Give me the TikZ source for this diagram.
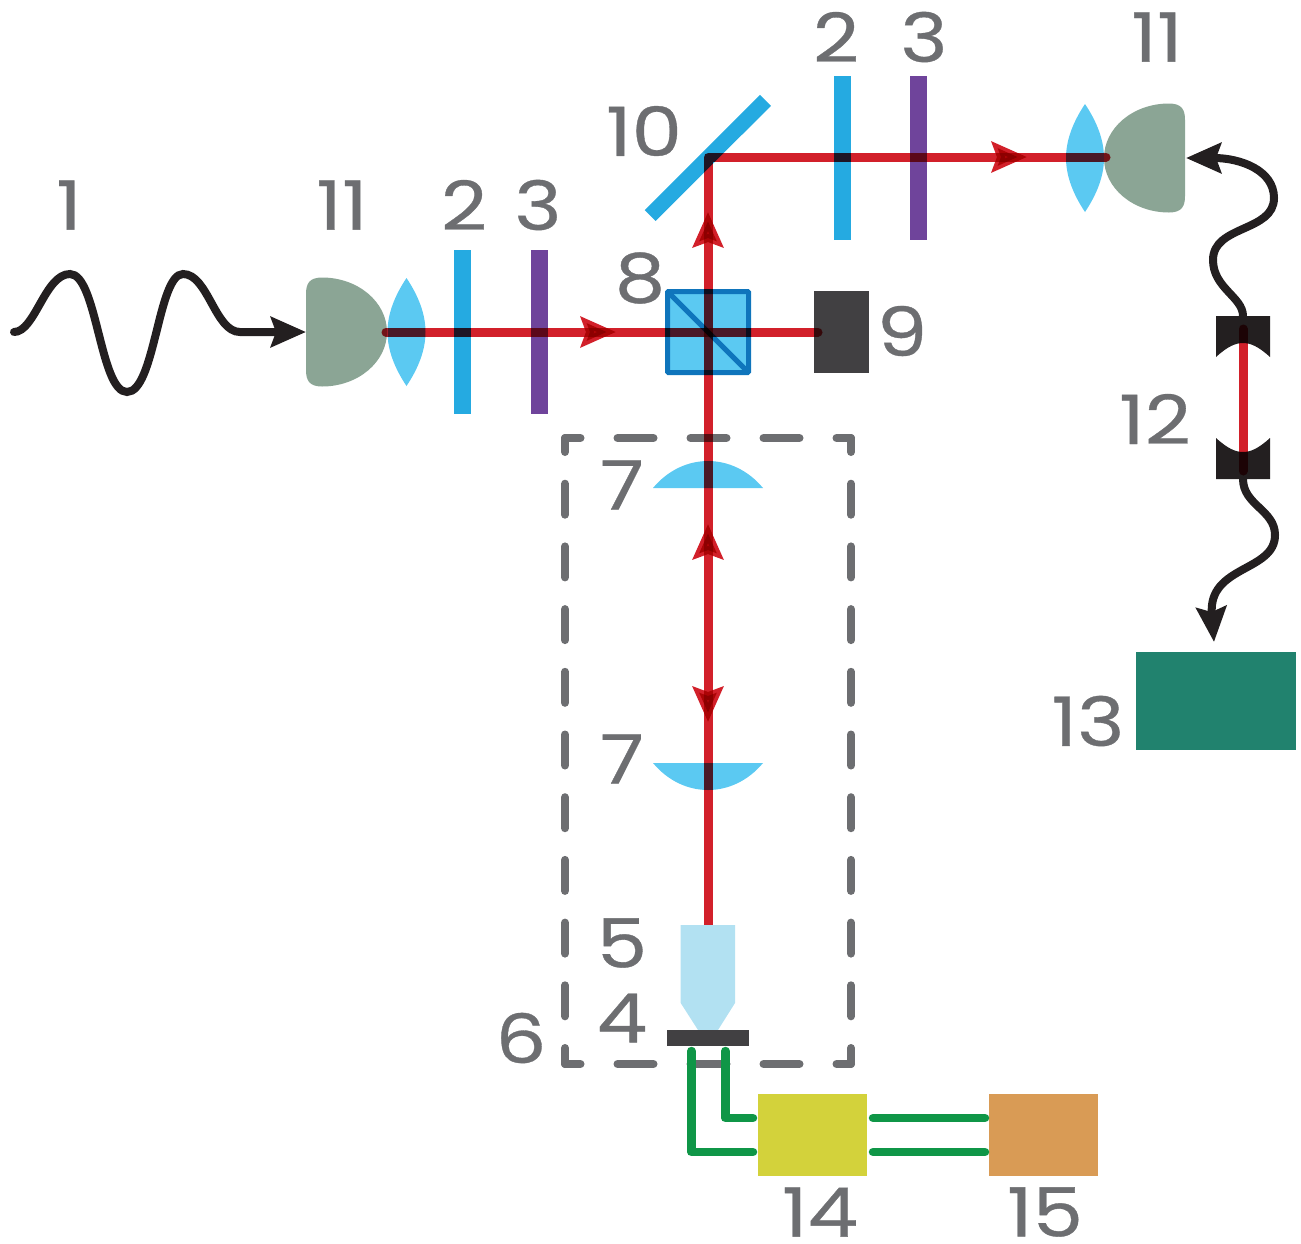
\documentclass[tikz,border=0pt]{standalone}
\usepackage{fontspec}
\setmainfont{Poppins}[FakeStretch=1.18, FakeBold=0.5]
\usetikzlibrary{arrows.meta, decorations.markings}
\definecolor{inkblack}{HTML}{231F20}
\definecolor{numgrey}{HTML}{6D6E71}
\definecolor{beamred}{HTML}{D2202A}
\definecolor{plateblue}{HTML}{25AAE1}
\definecolor{platepurple}{HTML}{6F449B}
\definecolor{lensblue}{HTML}{5BC9F2}
\definecolor{cubeblue}{HTML}{0F75BC}
\definecolor{couplergreen}{HTML}{8BA595}
\definecolor{darkgrey}{HTML}{414042}
\definecolor{objblue}{HTML}{B2E1F2}
\definecolor{wiregreen}{HTML}{0F9647}
\definecolor{boxyellow}{HTML}{D3D23B}
\definecolor{boxorange}{HTML}{D99B55}
\definecolor{boxteal}{HTML}{21826E}

\begin{document}
\begin{tikzpicture}[x=1pt, y=-1pt,
    num/.style={font=\fontsize{68}{68}\selectfont, text=numgrey, inner sep=0pt, yshift=2pt},
    plate/.style={rectangle, minimum width=17pt, minimum height=164pt, inner sep=0pt},
    solidbox/.style={rectangle, inner sep=0pt, outer sep=0pt},
    beam/.style={draw=beamred, line width=9pt, line cap=round, line join=round, blend mode=multiply},
    fibre/.style={draw=inkblack, line width=8pt, line cap=round},
    wire/.style={draw=wiregreen, line width=8.5pt, line cap=round, line join=round},
    hdash/.style={draw=numgrey, line width=8pt, line cap=round, dash pattern=on 36pt off 37pt, dash phase=20.5pt},
    vdash/.style={draw=numgrey, line width=8pt, line cap=round, dash pattern=on 31pt off 31.7pt, dash phase=15pt},
    redtip/.tip={Stealth[length=35pt, width=30pt, inset=5pt, color=beamred]},
    blacktip/.tip={Stealth[length=35pt, width=30pt, inset=5pt]},
    coupler/.pic={\fill[couplergreen] (0,-38) .. controls (0,-48) and (3,-54.5) .. (16,-54.5) .. controls (52,-54.5) and (81,-30) .. (81,0) .. controls (81,30) and (52,54.5) .. (16,54.5) .. controls (3,54.5) and (0,48) .. (0,38) -- cycle;},
    biconvex/.pic={\fill[lensblue] (0,-54) .. controls (12,-36) and (19,-18) .. (19,0) .. controls (19,18) and (12,36) .. (0,54) .. controls (-12,36) and (-19,18) .. (-19,0) .. controls (-19,-18) and (-12,-36) .. (0,-54) -- cycle;},
    planoconvex/.pic={\fill[lensblue] (-55,0) .. controls (-40,-18) and (-20,-27) .. (0,-27) .. controls (20,-27) and (40,-18) .. (55,0) -- cycle;},
    cavmirror/.pic={\fill[inkblack] (-27,0) -- (27,0) -- (27,41) .. controls (15,30) and (7,27) .. (0,27) .. controls (-7,27) and (-15,30) .. (-27,41) -- cycle;}]
    \useasboundingbox (0,0) rectangle (1301,1243);

    \pic (couplerA) at (306,332) {coupler};
    \pic (lensA) at (406.5,332) {biconvex};
    \node[plate, fill=plateblue] (hwpA) at (462.5,332) {};
    \node[plate, fill=platepurple] (qwpA) at (539.5,332) {};
    \pic[xscale=-1] (couplerB) at (1185,158) {coupler};
    \pic (lensB) at (1085,158) {biconvex};
    \node[plate, fill=plateblue] (hwpB) at (842.5,158) {};
    \node[plate, fill=platepurple] (qwpB) at (918.5,158) {};

    \node[solidbox, fill=lensblue, draw=cubeblue, line width=5pt, rounded corners=1pt, minimum width=81pt, minimum height=81pt] (cube) at (708,332) {};
    \draw[cubeblue, line width=5pt, shorten >=1.5pt, shorten <=1.5pt] (cube.north west) -- (cube.south east);
    \node[solidbox, fill=darkgrey, minimum width=55pt, minimum height=82pt] (dump) at (841.5,332) {};
    \coordinate (mirrorA) at (650.2,215.5);
    \coordinate (mirrorB) at (765.5,100.3);
    \draw[plateblue, line width=15.5pt] (mirrorA) -- (mirrorB);

    \pic (lensC) at (708,488) {planoconvex};
    \pic[yscale=-1] (lensD) at (708,763) {planoconvex};

    \coordinate (sw) at (565,1064);
    \coordinate (se) at (851,1064);
    \coordinate (nw) at (565,438);
    \coordinate (ne) at (851,438);
    \draw[hdash] (sw) -- (se);
    \draw[hdash] (nw) -- (ne);
    \draw[vdash] (sw) -- (nw);
    \draw[vdash] (se) -- (ne);

    \node[solidbox, fill=boxyellow, minimum width=109pt, minimum height=82pt] (amp) at (812.5,1135) {};
    \node[solidbox, fill=boxorange, minimum width=109pt, minimum height=82pt] (recorder) at (1043.5,1135) {};
    \node[solidbox, fill=boxteal, minimum width=160pt, minimum height=98pt] (detector) at (1216,701) {};

    \coordinate (pinA) at (691.3,1051);
    \coordinate (pinB) at (725.3,1051);
    \coordinate (ampA) at (753,1152);
    \coordinate (ampB) at (753,1118);
    \coordinate (outA) at (873,1118);
    \coordinate (outB) at (873,1152);
    \coordinate (recA) at (985,1118);
    \coordinate (recB) at (985,1152);
    \draw[wire] (pinA) |- (ampA);
    \draw[wire] (pinB) |- (ampB);
    \draw[wire] (outA) -- (recA);
    \draw[wire] (outB) -- (recB);

    \coordinate (waveS) at (14,332);
    \coordinate (waveE) at (306,332);
    \draw[fibre, -{blacktip}] (waveS) .. controls (35,332) and (45,274) .. (70,274) .. controls (97,274) and (100,392) .. (127,392) .. controls (155,392) and (158,274) .. (183,274) .. controls (208,274) and (215,332) .. (240,332) -- (waveE);

    \pic (cavA) at (1243,316) {cavmirror};
    \pic[yscale=-1] (cavB) at (1243,479) {cavmirror};
    \coordinate (cavAout) at (1243,316);
    \coordinate (cavBout) at (1243,479);
    \coordinate (couplerBin) at (1186,158);
    \coordinate (detIn) at (1214,642);
    \draw[fibre, -{blacktip}] (cavAout) .. controls (1243,297) and (1213,288) .. (1213,260) .. controls (1213,225) and (1274,232) .. (1274,198) .. controls (1274,170) and (1240,158) .. (couplerBin);
    \draw[fibre, -{blacktip}] (cavBout) .. controls (1243,505) and (1275,510) .. (1275,535) .. controls (1275,572) and (1208,565) .. (detIn);

    \coordinate (srcA) at (386,332);
    \coordinate (endA) at (818,332);
    \coordinate (obj) at (708,925);
    \coordinate (fold) at (708,157);
    \coordinate (endB) at (1106,157);
    \draw[beam, postaction={decorate, decoration={markings, mark=at position 230pt with {\arrow{redtip}}}}] (srcA) -- (endA);
    \draw[beam, postaction={decorate, decoration={markings,
        mark=at position 203pt with {\arrowreversed{redtip}},
        mark=at position 401pt with {\arrow{redtip}},
        mark=at position 713pt with {\arrow{redtip}},
        mark=at position 1087pt with {\arrow{redtip}}}}] (obj) -- (fold) -- (endB);
    \coordinate (cavAin) at (1243,329);
    \coordinate (cavBin) at (1243,471);
    \draw[beam] (cavAin) -- (cavBin);
    \fill[objblue] (680.7,925) -- (735,925) -- (735,1003) -- (718,1030) -- (698,1030) -- (680.7,1003) -- cycle;
    \node[solidbox, fill=darkgrey, minimum width=82pt, minimum height=16pt] (sample) at (708,1038) {};

    \node[num] (n1) at (69,207) {1};
    \node[num] (n11a) at (342,207) {11};
    \node[num] (n2a) at (464,207) {2};
    \node[num] (n3a) at (538,207) {3};
    \node[num] (n10) at (644,133) {10};
    \node[num] (n8) at (640,280) {8};
    \node[num] (n9) at (902,333) {9};
    \node[num] (n2b) at (836,39) {2};
    \node[num] (n3b) at (924,39) {3};
    \node[num] (n11b) at (1157,39) {11};
    \node[num] (n12) at (1155,421) {12};
    \node[num] (n13) at (1088,723) {13};
    \node[num] (n7a) at (622,487) {7};
    \node[num] (n7b) at (622,761) {7};
    \node[num] (n5) at (622,945) {5};
    \node[num] (n4) at (622,1020) {4};
    \node[num] (n6) at (521,1040) {6};
    \node[num] (n14) at (820,1214) {14};
    \node[num] (n15) at (1045,1214) {15};
\end{tikzpicture}
\end{document}
